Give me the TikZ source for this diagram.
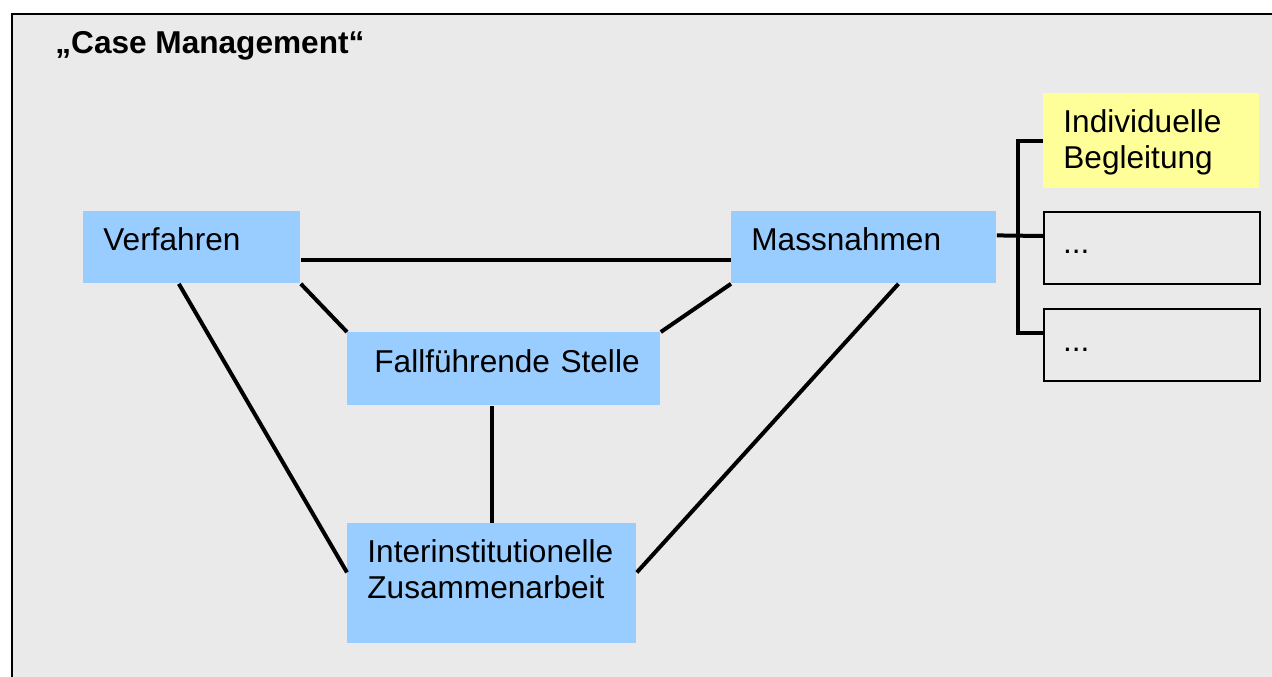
\documentclass[tikz,border=0pt]{standalone}
\usepackage{fontspec}
\setmainfont{Liberation Sans}
\usetikzlibrary{calc}
\definecolor{cmblue}{HTML}{99CCFF}
\definecolor{cmyellow}{HTML}{FFFF99}
\definecolor{cmgray}{HTML}{EAEAEA}

\begin{document}
\begin{tikzpicture}[x=0.5pt,y=-0.5pt,
  block/.style={anchor=north west,inner ysep=0pt,inner xsep=10pt,align=left,
    text height=19.5pt,font=\fontsize{15.8}{18}\selectfont},
  link/.style={line width=2pt}]
  \useasboundingbox (0,0) rectangle (1272,676);
  \fill[cmgray,draw=black,line width=1pt] (12,14) rectangle (1300,700);
  \node[anchor=base west,inner sep=0pt,font=\bfseries\fontsize{15.8}{18}\selectfont] (title) at (55,53) {„Case Management“};
  \node[block,fill=cmblue,text width=88.5pt,text depth=16.5pt] (verf) at (83,211) {Verfahren};
  \node[block,fill=cmblue,text width=112.5pt,text depth=16.5pt] (mass) at (731,211) {Massnahmen};
  \node[block,fill=cmblue,inner xsep=13.5pt,text width=129.5pt,text height=20pt,text depth=16.5pt] (fall) at (347,332) {\mbox{Fallführende Stelle}};
  \node[block,fill=cmblue,text width=124.5pt,text depth=40.5pt] (inter) at (347,523) {Interinstitutionelle\\Zusammenarbeit};
  \node[block,fill=cmyellow,text width=88pt,text depth=28pt] (indiv) at (1043,93) {Individuelle\\Begleitung};
  \node[block,draw,line width=1pt,fill=cmgray,inner xsep=9.5pt,text width=89pt,text height=20.5pt,text depth=15.5pt] (dots1) at (1043,211) {...};
  \node[block,draw,line width=1pt,fill=cmgray,inner xsep=9.5pt,text width=89pt,text height=21pt,text depth=15pt] (dots2) at (1043,308) {...};
  \coordinate (brk) at (1018,235);
  \draw[link] ([yshift=-6.5pt]verf.east) -- ([yshift=-6.5pt]mass.west);
  \draw[link] (verf.south east) -- (fall.north west);
  \draw[link] (mass.south west) -- (fall.north east);
  \draw[link] ($(verf.south west)!.44!(verf.south east)$) -- ([yshift=5.5pt]inter.west);
  \draw[link] ($(mass.south west)!.63!(mass.south east)$) -- ([yshift=5.5pt]inter.east);
  \draw[link] (inter.north) -- (inter.north |- fall.south);
  \draw[link] ([yshift=6pt]mass.east) -- ([yshift=6pt]dots1.west);
  \draw[link] (indiv.west) -| (brk) |- ([yshift=6pt]dots2.west);
\end{tikzpicture}
\end{document}
